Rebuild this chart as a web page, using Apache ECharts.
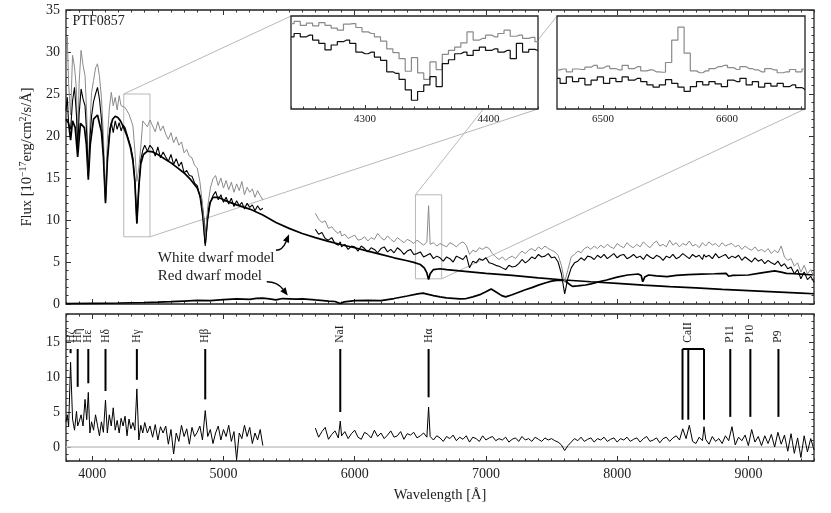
<!DOCTYPE html>
<html>
<head>
<meta charset="utf-8">
<script src="https://cdn.jsdelivr.net/npm/echarts@6/dist/echarts.min.js"></script>
<style>
  html, body { margin: 0; padding: 0; background: #fff; }
  #chart { width: 831px; height: 513px; }
</style>
</head>
<body>
<div id="chart"></div>
<script>
var SERIF = '"Liberation Serif", "DejaVu Serif", serif';

// axis ranges (also used for the zoom boxes)
var xRange = [3800, 9500];
var fluxRange = [0, 35];
var residRange = [-2, 19];
var inset1X = [4240, 4440], inset1Y = [8, 25];
var inset2X = [6463, 6663], inset2Y = [3, 13];

// blue arm (wavelength, black spectrum, grey spectrum, residual)
var W1 = [3800,3810,3820,3835,3850,3865,3880,3889,3900,3915,
          3930,3945,3958,3970,3982,3995,4010,4025,4040,4055,
          4070,4085,4101,4115,4130,4145,4160,4175,4190,4205,
          4220,4235,4250,4265,4280,4295,4310,4325,4340,4355,
          4370,4385,4400,4420,4440,4460,4480,4500,4520,4540,
          4560,4580,4600,4620,4640,4660,4680,4700,4720,4740,
          4760,4780,4800,4820,4840,4861,4880,4900,4920,4940,
          4960,4980,5000,5020,5040,5060,5080,5100,5120,5140,
          5160,5180,5200,5220,5240,5260,5280,5300];
var B1 = [23.0,24.6,21.4,20.8,24.2,25.8,22.4,18.3,22.6,25.6,
          24.4,23.6,20.2,15.2,19.6,22.4,24.1,25.0,25.8,24.4,
          22.0,18.0,12.2,17.4,20.1,21.6,20.4,21.8,20.8,21.6,
          20.6,21.3,21.0,20.2,20.3,18.6,17.4,14.6,9.6,13.8,
          17.2,18.3,18.9,18.2,18.9,18.5,17.6,18.7,17.4,18.1,
          17.5,17.0,17.8,16.6,17.3,16.4,16.9,15.6,15.9,15.3,
          15.2,14.4,14.1,12.8,10.5,6.9,10.0,12.1,12.9,13.4,
          12.4,13.0,12.1,12.7,11.9,12.6,11.6,12.3,11.7,12.1,
          11.3,12.0,11.5,11.8,11.1,11.7,11.2,11.4];
var G1 = [27.0,31.8,26.2,22.5,29.6,28.2,25.5,18.9,26.3,30.2,
          28.4,27.2,22.6,15.8,21.2,25.2,26.6,28.1,28.6,27.1,
          24.6,20.1,12.8,19.6,23.2,25.2,23.6,24.6,23.1,24.8,
          23.6,23.8,23.4,23.5,22.6,22.8,21.2,18.2,14.6,16.2,
          18.7,21.8,22.0,21.1,21.9,21.2,20.5,21.7,20.6,21.2,
          20.2,19.6,20.4,19.2,19.9,18.9,19.3,18.0,18.4,17.6,
          17.4,16.5,16.2,14.6,11.9,7.6,11.6,13.8,14.9,15.3,
          14.1,15.0,13.8,14.7,13.6,14.5,13.3,14.3,13.5,14.6,
          13.0,13.9,13.3,13.7,12.7,13.5,12.9,12.4];
var R1 = [3.6,4.6,2.9,12.1,4.0,2.4,5.1,3.0,3.6,4.6,
          3.0,6.8,3.9,7.8,2.0,3.6,2.4,4.6,3.1,1.6,
          3.6,2.1,6.7,2.0,4.6,3.0,5.6,2.4,3.8,2.0,
          4.1,3.0,4.4,1.6,4.0,2.6,3.5,2.4,8.3,1.0,
          3.1,2.0,3.5,2.0,3.0,1.4,3.2,1.0,2.9,2.0,
          3.0,0.4,2.5,-1.0,2.0,0.8,3.1,1.5,2.6,0.4,
          2.8,1.5,2.1,3.0,1.0,5.2,1.5,2.5,0.5,2.0,
          3.0,1.0,2.5,1.5,3.1,0.8,2.2,-1.8,2.0,1.2,
          3.1,1.5,2.8,0.5,2.0,1.0,2.5,0.2];

// red arm
var W2 = [5700,5725,5750,5775,5800,5825,5850,5875,5890,5900,
          5925,5950,5975,6000,6025,6050,6075,6100,6125,6150,
          6175,6200,6225,6250,6275,6300,6325,6350,6375,6400,
          6425,6450,6475,6500,6525,6550,6563,6575,6600,6625,
          6650,6675,6700,6725,6750,6775,6800,6825,6850,6875,
          6900,6925,6950,6975,7000,7025,7050,7075,7100,7125,
          7150,7175,7200,7225,7250,7275,7300,7325,7350,7375,
          7400,7425,7450,7475,7500,7525,7550,7575,7600,7625,
          7650,7675,7700,7725,7750,7775,7800,7825,7850,7875,
          7900,7925,7950,7975,8000,8025,8050,8075,8100,8125,
          8150,8175,8200,8225,8250,8275,8300,8325,8350,8375,
          8400,8425,8450,8475,8500,8525,8550,8575,8600,8625,
          8650,8662,8675,8700,8725,8750,8775,8800,8825,8850,
          8875,8900,8925,8950,8975,9000,9025,9050,9075,9100,
          9125,9150,9175,9200,9225,9250,9275,9300,9325,9350,
          9375,9400,9425,9450,9475,9500];
var B2 = [8.9,8.3,8.5,7.8,7.6,7.9,7.2,7.0,7.4,6.8,
          7.1,6.5,6.9,6.8,6.3,6.9,6.6,6.2,6.7,6.5,
          6.1,6.6,6.8,6.2,6.5,6.1,6.7,6.4,5.9,6.3,
          6.5,5.9,6.0,6.2,5.6,5.8,5.6,6.0,5.4,5.7,
          5.5,5.1,5.6,5.4,5.0,5.7,5.5,5.3,5.8,4.3,
          5.1,4.9,5.4,5.2,5.5,4.9,4.8,4.6,4.5,4.3,
          4.1,4.6,4.4,4.5,4.8,5.3,4.9,5.2,5.6,5.4,
          5.9,5.6,5.7,6.0,5.5,5.6,5.0,3.6,1.2,3.1,
          4.3,4.9,5.1,5.5,5.2,5.7,5.6,5.3,5.8,5.5,
          5.9,5.4,5.7,6.0,5.5,5.8,5.9,5.4,5.6,5.9,
          5.5,5.7,5.3,5.9,5.6,5.4,5.8,5.6,5.2,5.7,
          5.5,5.9,5.4,5.6,6.0,5.7,5.4,5.9,5.6,5.8,
          5.3,5.9,5.6,5.8,5.4,6.0,5.5,5.7,5.9,5.4,
          5.7,5.5,5.8,5.2,5.6,5.3,5.0,5.5,5.1,5.3,
          4.8,5.2,4.9,4.7,5.1,4.5,4.8,4.2,4.4,3.6,
          4.1,3.0,3.8,2.9,3.3,2.6];
var G2 = [10.8,10.1,9.7,9.9,9.0,9.2,8.7,8.4,8.7,8.1,
          8.3,7.8,8.0,8.2,7.6,7.7,8.0,7.5,7.9,7.7,
          8.4,7.9,7.6,8.1,7.7,7.4,7.9,7.6,7.3,7.7,
          7.5,7.2,7.6,7.3,7.0,7.4,11.7,7.1,7.3,6.9,
          7.2,7.0,6.8,7.3,7.1,6.8,7.2,7.4,7.0,5.9,
          6.4,6.2,6.7,6.5,6.8,6.6,6.0,5.6,5.3,5.6,
          5.2,5.5,5.7,5.4,5.9,6.3,6.0,6.4,6.6,6.3,
          6.8,6.5,6.9,6.6,6.4,6.2,5.8,4.6,2.6,4.1,
          5.6,5.9,6.3,6.1,6.6,6.8,6.5,6.9,6.6,7.0,
          6.7,7.1,6.8,6.6,7.2,6.9,6.7,7.3,6.9,6.7,
          7.1,6.8,7.4,7.0,6.7,7.2,7.5,6.9,7.1,6.8,
          7.6,7.0,7.3,6.8,7.2,7.0,7.5,6.9,7.1,6.7,
          7.3,7.1,6.9,7.4,7.0,7.2,6.8,7.3,6.9,7.1,
          7.2,6.8,7.0,6.5,6.9,6.6,6.4,6.8,6.3,6.5,
          6.2,6.6,6.0,6.4,6.1,6.9,5.6,5.2,5.4,4.5,
          4.9,3.8,4.6,3.6,4.1,3.2];
var R2 = [2.7,1.4,2.2,2.8,1.1,1.8,2.3,1.3,3.7,1.6,
          2.2,1.2,1.9,2.4,1.4,1.1,2.1,1.8,1.3,2.4,
          1.5,2.0,1.2,1.7,2.3,1.4,1.6,2.2,1.1,1.9,
          1.7,2.1,1.3,1.6,2.0,1.4,5.7,1.5,1.0,1.6,
          1.3,0.8,1.5,1.2,1.7,0.9,1.4,1.1,1.6,0.7,
          1.4,1.2,0.8,1.6,1.0,1.3,1.5,0.9,1.2,1.0,
          1.4,0.7,1.1,1.3,0.8,1.5,1.0,1.2,0.8,1.4,
          1.1,0.8,1.3,1.0,1.2,0.9,0.7,0.3,-0.5,0.2,
          0.7,1.2,0.9,1.4,0.8,1.1,1.3,0.7,1.2,1.0,
          1.4,0.8,1.1,1.3,0.7,1.2,1.0,1.4,0.8,1.1,
          1.3,0.7,1.2,1.5,0.8,1.0,1.3,0.6,1.2,1.4,
          0.8,1.3,1.6,1.0,2.6,1.2,3.1,0.8,0.5,1.4,
          0.9,2.9,1.1,0.4,1.5,0.8,1.2,0.5,1.6,0.9,
          2.9,0.3,1.4,0.9,1.7,0.2,2.5,0.7,1.5,0.2,
          1.6,0.5,1.8,0.0,2.1,0.4,1.7,-0.6,1.9,-0.9,
          1.3,-1.5,1.6,-0.7,1.2,-0.4];

// white dwarf model
var WD_W = [3800,3820,3835,3850,3870,3889,3910,3940,3955,3970,
            3985,4010,4040,4070,4085,4101,4115,4135,4155,4175,
            4195,4215,4240,4265,4290,4310,4325,4340,4355,4370,
            4390,4420,4460,4500,4550,4600,4650,4700,4750,4800,
            4830,4850,4861,4875,4895,4920,4960,5000,5100,5200,
            5300,5400,5500,5600,5700,5800,5900,6000,6100,6200,
            6300,6400,6450,6500,6530,6550,6563,6575,6600,6650,
            6700,6800,6900,7000,7200,7400,7600,7800,8000,8200,
            8400,8600,8800,9000,9200,9400,9500];
var WD_F = [22.0,21.5,19.5,21.8,21.0,17.5,21.5,21.0,19.0,14.8,
            19.0,22.0,22.5,20.5,17.5,12.0,17.0,20.8,22.0,22.35,
            22.2,21.8,21.0,20.0,18.7,17.0,14.5,9.6,14.0,16.7,
            17.8,18.2,18.1,17.8,17.3,16.8,16.2,15.6,14.8,13.8,
            12.5,10.0,7.2,10.0,12.0,12.7,12.7,12.4,11.8,11.3,
            10.6,9.7,9.0,8.4,7.9,7.45,7.05,6.7,6.3,5.9,
            5.5,5.15,4.95,4.7,4.3,3.7,2.9,3.6,4.1,4.2,
            4.1,3.95,3.8,3.65,3.4,3.1,2.86,2.65,2.45,2.25,
            2.08,1.92,1.75,1.6,1.45,1.3,1.22];

// red dwarf model
var RD_W = [3800,4000,4200,4400,4500,4600,4700,4800,4900,5000,
            5100,5200,5250,5300,5350,5400,5450,5500,5550,5600,
            5650,5700,5800,5850,5890,5920,6000,6100,6200,6300,
            6400,6480,6520,6560,6600,6650,6700,6800,6850,6900,
            6960,7000,7040,7080,7120,7150,7200,7250,7300,7350,
            7400,7450,7500,7550,7600,7640,7660,7700,7760,7800,
            7850,7920,8000,8080,8160,8183,8195,8210,8240,8300,
            8380,8450,8540,8640,8740,8830,8850,8880,9000,9100,
            9200,9250,9290,9350,9400,9500];
var RD_F = [0.05,0.08,0.12,0.18,0.22,0.28,0.35,0.42,0.4,0.52,
            0.6,0.55,0.68,0.7,0.62,0.5,0.65,0.62,0.58,0.62,
            0.55,0.48,0.35,0.3,0.05,0.25,0.4,0.42,0.4,0.65,
            0.95,1.2,1.3,1.15,1.0,0.85,0.72,0.62,0.65,0.85,
            1.15,1.45,1.78,1.4,1.0,0.85,1.1,1.4,1.7,1.95,
            2.25,2.5,2.72,2.85,2.8,2.3,2.1,2.15,2.26,2.4,
            2.6,2.86,3.2,3.45,3.57,3.4,2.65,3.2,3.45,3.35,
            3.25,3.4,3.5,3.55,3.6,3.65,3.3,3.4,3.45,3.7,
            3.95,3.8,3.65,3.6,3.55,3.45];

// inset around H gamma
var I1W = [4240,4245,4250,4255,4260,4265,4270,4275,4280,4285,
           4290,4295,4300,4305,4310,4315,4320,4325,4330,4335,
           4340,4345,4350,4355,4360,4365,4370,4375,4380,4385,
           4390,4395,4400,4405,4410,4415,4420,4425,4430,4435,4440];
var I1G = [23.6,24.0,23.3,23.7,23.2,23.8,23.3,22.8,22.4,23.5,
           23.6,22.9,22.1,21.8,21.2,20.4,19.0,18.3,17.2,14.9,
           17.4,14.6,13.4,16.6,15.2,18.0,18.7,19.3,20.1,22.1,
           20.6,20.9,21.5,21.2,21.8,22.4,21.3,21.5,20.9,21.1,20.3];
var I1B = [21.2,21.8,21.2,21.5,20.6,20.0,18.8,19.7,20.3,20.6,
           20.0,18.4,18.1,18.4,17.5,16.9,14.8,14.5,13.4,11.5,
           9.6,11.2,12.4,13.9,12.1,16.3,17.0,18.1,18.4,17.8,
           18.7,19.3,18.7,19.0,18.4,18.7,17.2,20.0,18.4,18.9,18.7];

// inset around H alpha
var I2W = [6463,6468,6473,6478,6483,6488,6493,6498,6503,6508,
           6513,6518,6523,6528,6533,6538,6543,6548,6553,6558,
           6563,6568,6573,6578,6583,6588,6593,6598,6603,6608,
           6613,6618,6623,6628,6633,6638,6643,6648,6653,6658,6663];
var I2G = [7.2,7.3,7.0,7.3,7.25,7.5,7.7,7.4,7.6,7.35,
           7.2,7.7,7.35,7.55,7.1,7.2,7.0,6.95,8.0,10.4,
           11.8,9.0,7.1,6.9,7.1,7.35,7.55,7.7,7.45,7.25,
           7.55,7.35,7.2,7.0,7.35,7.2,6.9,7.0,7.25,7.0,7.3];
var I2B = [6.3,5.75,6.45,5.95,6.3,5.6,6.1,6.45,5.75,6.3,
           5.95,6.45,6.1,6.3,5.95,5.6,5.35,5.6,6.15,5.75,
           5.35,4.9,5.4,5.95,5.6,5.95,5.7,5.4,6.1,5.95,
           6.3,5.6,5.95,5.35,5.75,5.45,5.75,5.4,5.6,5.3,5.1];

// line identifications in the residual panel
var lineNames = ['Hζ','Hη','Hε','Hδ','Hγ','Hβ','NaI','Hα','CaII','P11','P10','P9'];
var lineLabelWaves = [3835,3889,3970,4101,4340,4861,5890,6563,8542,8862,9015,9229];
var markWaves = [3835,3889,3970,4101,4340,4861,5890,6563,8498,8542,8662,8862,9015,9229];
var markLows  = [13.4,8.6,9.1,8.0,9.6,6.8,5.0,7.1,3.9,3.9,3.9,4.3,4.3,4.3];
var markTop = 14, labelBase = 14.9;
var caBracket = [8498, 8662];

function pairs(xs, ys) { return xs.map(function (x, i) { return [x, ys[i]]; }); }
function steps(a, b, s) {
  var out = [];
  for (var t = Math.ceil(a / s) * s; t <= b + 1e-6; t += s) out.push(Math.round(t * 1000) / 1000);
  return out;
}
function fmt(v) { return String(v); }

function axis(gridIndex, range, values, len, position, label, z) {
  return {
    type: 'value', gridIndex: gridIndex, min: range[0], max: range[1], position: position,
    axisLine: {show: false, onZero: false},
    splitLine: {show: false},
    axisTick: {show: true, inside: true, length: len, customValues: values,
               lineStyle: {color: '#333', width: 1}},
    axisLabel: label ? Object.assign({show: true, customValues: values, color: '#222',
               fontFamily: SERIF, formatter: fmt}, label) : {show: false},
    z: z || 0
  };
}

var xAxes = [
  axis(0, xRange, steps(4000, 9000, 1000), 5, 'bottom'),
  axis(0, xRange, steps(3800, 9500, 100), 2.5, 'bottom'),
  axis(0, xRange, steps(4000, 9000, 1000), 5, 'top'),
  axis(0, xRange, steps(3800, 9500, 100), 2.5, 'top'),
  axis(1, xRange, steps(4000, 9000, 1000), 5, 'bottom', {fontSize: 14, margin: 6}),
  axis(1, xRange, steps(3800, 9500, 100), 2.5, 'bottom'),
  axis(1, xRange, steps(4000, 9000, 1000), 5, 'top'),
  axis(1, xRange, steps(3800, 9500, 100), 2.5, 'top'),
  axis(2, inset1X, [4300, 4400], 4, 'bottom', {fontSize: 11, margin: 5}, 6),
  axis(2, inset1X, steps(inset1X[0], inset1X[1], 10), 2.5, 'bottom', null, 6),
  axis(3, inset2X, [6500, 6600], 4, 'bottom', {fontSize: 11, margin: 5}, 6),
  axis(3, inset2X, steps(inset2X[0], inset2X[1], 10), 2.5, 'bottom', null, 6)
];
xAxes[4].name = 'Wavelength [Å]';
xAxes[4].nameLocation = 'middle';
xAxes[4].nameGap = 27;
xAxes[4].nameTextStyle = {fontFamily: SERIF, fontSize: 14.5, color: '#222'};

var yAxes = [
  axis(0, fluxRange, steps(0, 35, 5), 5, 'left', {fontSize: 14, margin: 6}),
  axis(0, fluxRange, steps(0, 35, 1), 2.5, 'left'),
  axis(0, fluxRange, steps(0, 35, 5), 5, 'right'),
  axis(0, fluxRange, steps(0, 35, 1), 2.5, 'right'),
  axis(1, residRange, steps(0, 15, 5), 5, 'left', {fontSize: 14, margin: 6}),
  axis(1, residRange, steps(-2, 19, 1), 2.5, 'left'),
  axis(1, residRange, steps(0, 15, 5), 5, 'right'),
  axis(1, residRange, steps(-2, 19, 1), 2.5, 'right'),
  {type: 'value', gridIndex: 2, min: inset1Y[0], max: inset1Y[1], show: false},
  {type: 'value', gridIndex: 3, min: inset2Y[0], max: inset2Y[1], show: false}
];
yAxes[0].name = '{n|Flux [10}{s|−17}{n|erg/cm}{s|2}{n|/s/Å]}';
yAxes[0].nameLocation = 'middle';
yAxes[0].nameGap = 29;
yAxes[0].nameRotate = 90;
yAxes[0].nameTextStyle = {
  rich: {
    n: {fontFamily: SERIF, fontSize: 14.5, color: '#222', lineHeight: 18},
    s: {fontFamily: SERIF, fontSize: 10, color: '#222', lineHeight: 18, verticalAlign: 'top'}
  }
};

function line(xi, yi, data, color, width, z, extra) {
  return Object.assign({
    type: 'line', xAxisIndex: xi, yAxisIndex: yi, data: data, showSymbol: false, symbol: 'none',
    lineStyle: {color: color, width: width}, z: z, silent: true
  }, extra || {});
}

var series = [
  line(0, 0, pairs(WD_W, WD_F), '#000', 1.7, 1),
  line(0, 0, pairs(RD_W, RD_F), '#000', 1.7, 1),
  line(0, 0, pairs(W1, G1), '#8a8a8a', 1, 2),
  line(0, 0, pairs(W2, G2), '#8a8a8a', 1, 2),
  line(0, 0, pairs(W1, B1), '#000', 1.1, 3),
  line(0, 0, pairs(W2, B2), '#000', 1.1, 3),
  line(4, 4, [[xRange[0], 0], [xRange[1], 0]], '#c4c4c4', 1.5, 2),
  line(4, 4, pairs(W1, R1), '#000', 1, 3),
  line(4, 4, pairs(W2, R2), '#000', 1, 3),
  line(4, 4, [[caBracket[0], markTop], [caBracket[1], markTop]], '#000', 2, 5),
  {
    type: 'custom', xAxisIndex: 4, yAxisIndex: 4, silent: true, z: 5,
    data: pairs(markWaves, markLows),
    renderItem: function (params, api) {
      var a = api.coord([api.value(0), markTop]);
      var b = api.coord([api.value(0), api.value(1)]);
      return {type: 'line', shape: {x1: a[0], y1: a[1], x2: b[0], y2: b[1]},
              style: {stroke: '#000', lineWidth: 2}};
    }
  },
  {
    type: 'custom', xAxisIndex: 4, yAxisIndex: 4, silent: true, z: 5,
    data: lineLabelWaves.map(function (w, i) { return [w, labelBase, i]; }),
    renderItem: function (params, api) {
      var p = api.coord([api.value(0), api.value(1)]);
      return {type: 'text', x: p[0], y: p[1], rotation: Math.PI / 2,
              style: {text: lineNames[api.value(2)], align: 'left', verticalAlign: 'middle',
                      fill: '#222', font: '11.5px ' + SERIF}};
    }
  },
  line(8, 8, pairs(I1W, I1G), '#8a8a8a', 1.2, 7, {step: 'middle'}),
  line(8, 8, pairs(I1W, I1B), '#111', 1.2, 8, {step: 'middle'}),
  line(10, 9, pairs(I2W, I2G), '#8a8a8a', 1.2, 7, {step: 'middle'}),
  line(10, 9, pairs(I2W, I2B), '#111', 1.2, 8, {step: 'middle'})
];

var frame = {show: true, borderColor: '#222', borderWidth: 1.3, backgroundColor: 'transparent',
             containLabel: false, outerBoundsMode: 'none'};
var option = {
  animation: false,
  textStyle: {fontFamily: SERIF},
  grid: [
    Object.assign({left: 66, right: 17, top: 10, height: 294}, frame),
    Object.assign({left: 66, right: 17, top: 314, height: 147}, frame),
    Object.assign({}, frame, {left: 291, top: 16, width: 247, height: 93, backgroundColor: '#fff', z: 5}),
    Object.assign({}, frame, {left: 557, top: 16, width: 248, height: 93, backgroundColor: '#fff', z: 5})
  ],
  xAxis: xAxes,
  yAxis: yAxes,
  series: series
};

var chart = echarts.init(document.getElementById('chart'));
chart.setOption(option);

// annotations placed through the axes' own scales
function toPx(xi, yi, p) { return chart.convertToPixel({xAxisIndex: xi, yAxisIndex: yi}, p); }
var BOX = '#b8b8b8';
var graphics = [];
[[inset1X, inset1Y, 8, 8], [inset2X, inset2Y, 10, 9]].forEach(function (s) {
  var tl = toPx(0, 0, [s[0][0], s[1][1]]), br = toPx(0, 0, [s[0][1], s[1][0]]);
  var itl = toPx(s[2], s[3], [s[0][0], s[1][1]]), ibr = toPx(s[2], s[3], [s[0][1], s[1][0]]);
  graphics.push({type: 'rect', silent: true, z: 1,
    shape: {x: tl[0], y: tl[1], width: br[0] - tl[0], height: br[1] - tl[1]},
    style: {fill: 'none', stroke: BOX, lineWidth: 1}});
  graphics.push({type: 'line', silent: true, z: 1,
    shape: {x1: tl[0], y1: tl[1], x2: itl[0], y2: itl[1]}, style: {stroke: BOX, lineWidth: 1}});
  graphics.push({type: 'line', silent: true, z: 1,
    shape: {x1: br[0], y1: br[1], x2: ibr[0], y2: ibr[1]}, style: {stroke: BOX, lineWidth: 1}});
});

function arrow(from, to, bend) {
  var a = toPx(0, 0, from), b = toPx(0, 0, to);
  var c = [a[0] + (b[0] - a[0]) * bend, a[1]];
  var ang = Math.atan2(b[1] - c[1], b[0] - c[0]);
  var L = 8, W = 3.3;
  var base = [b[0] - L * Math.cos(ang), b[1] - L * Math.sin(ang)];
  var n = [-Math.sin(ang), Math.cos(ang)];
  return [
    {type: 'bezierCurve', silent: true, z: 10,
     shape: {x1: a[0], y1: a[1], x2: base[0], y2: base[1], cpx1: c[0], cpy1: c[1]},
     style: {stroke: '#000', lineWidth: 1.4, fill: 'none'}},
    {type: 'polygon', silent: true, z: 10,
     shape: {points: [b, [base[0] + n[0] * W, base[1] + n[1] * W], [base[0] - n[0] * W, base[1] - n[1] * W]]},
     style: {fill: '#000'}}
  ];
}
graphics = graphics.concat(arrow([5400, 6.4], [5500, 8.3], 0.5));
graphics = graphics.concat(arrow([5330, 2.65], [5490, 1.0], 0.5));

function note(text, at, size) {
  var p = toPx(0, 0, at);
  return {type: 'text', silent: true, z: 10, x: p[0], y: p[1],
          style: {text: text, font: size + 'px ' + SERIF, fill: '#222', align: 'left', verticalAlign: 'middle'}};
}
graphics.push(note('White dwarf model', [4500, 5.5], 15));
graphics.push(note('Red dwarf model', [4500, 3.35], 15));
graphics.push(note('PTF0857', [3850, 33.6], 14));

chart.setOption({graphic: graphics});
</script>
</body>
</html>
